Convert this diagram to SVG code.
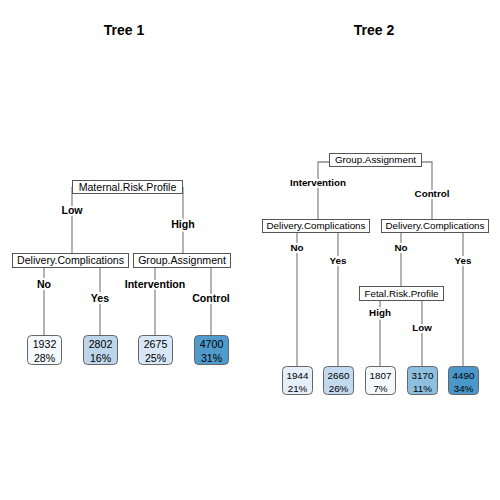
<svg xmlns="http://www.w3.org/2000/svg" width="500" height="500" viewBox="0 0 500 500">
<style>
text{font-family:"Liberation Sans",Arial,sans-serif;fill:#000}
.title{font-size:14px;font-weight:bold;text-anchor:middle}
.n1{font-size:10.6px;text-anchor:middle}
.n2{font-size:9.8px;text-anchor:middle}
.lab1{font-size:10.6px;font-weight:bold;text-anchor:middle;stroke:#fff;stroke-width:4;paint-order:stroke}
.lab2{font-size:9.8px;font-weight:bold;text-anchor:middle;stroke:#fff;stroke-width:4;paint-order:stroke}
.box{fill:#fff;stroke:#555;stroke-width:1}
.leaf{stroke:#666;stroke-width:1}
.edge{stroke:#8c8c8c;stroke-width:1.3;fill:none}
</style>
<rect width="500" height="500" fill="#fff"/>
<text class="title" x="124" y="35">Tree 1</text>
<text class="title" x="374" y="35">Tree 2</text>

<g id="connectors">
<!-- Tree 1 -->
<path class="edge" d="M72,187 V253 M183,187 V253 M44,267 V335 M100,267 V335 M155,267 V335 M211,267 V335"/>
<!-- Tree 2 -->
<path class="edge" d="M329,162 H318 V219 M421,162 H432 V219 M297,232 V366 M338,232 V366 M401,232 V286 M463,232 V366 M380,300 V366 M422,300 V366"/>
</g>

<g id="edge-labels">
<text class="lab1" x="72" y="214">Low</text>
<text class="lab1" x="183" y="228">High</text>
<text class="lab1" x="44" y="288">No</text>
<text class="lab1" x="100" y="302">Yes</text>
<text class="lab1" x="155" y="288">Intervention</text>
<text class="lab1" x="211" y="302">Control</text>
<text class="lab2" x="318" y="185.5">Intervention</text>
<text class="lab2" x="432" y="197">Control</text>
<text class="lab2" x="297" y="250.5">No</text>
<text class="lab2" x="338" y="264">Yes</text>
<text class="lab2" x="401" y="250.5">No</text>
<text class="lab2" x="463" y="264">Yes</text>
<text class="lab2" x="380" y="315.5">High</text>
<text class="lab2" x="422" y="330.5">Low</text>
</g>

<!-- Tree 1 nodes -->
<g id="t1-root"><rect class="box" x="72.5" y="180.5" width="110" height="13"/><text class="n1" x="127.5" y="190.7">Maternal.Risk.Profile</text></g>
<g id="t1-dc"><rect class="box" x="12.5" y="253.5" width="116" height="14"/><text class="n1" x="70.5" y="264.2">Delivery.Complications</text></g>
<g id="t1-ga"><rect class="box" x="133.5" y="253.5" width="97" height="14"/><text class="n1" x="182" y="264.2">Group.Assignment</text></g>
<g id="t1-leaf1"><rect class="leaf" x="27.5" y="335.5" width="34" height="29" rx="4" fill="#f4f9fe"/><text class="n1" x="44.5" y="348">1932</text><text class="n1" x="44.5" y="361.5">28%</text></g>
<g id="t1-leaf2"><rect class="leaf" x="83.5" y="335.5" width="34" height="29" rx="4" fill="#bcd5eb"/><text class="n1" x="100.5" y="348">2802</text><text class="n1" x="100.5" y="361.5">16%</text></g>
<g id="t1-leaf3"><rect class="leaf" x="138.5" y="335.5" width="34" height="29" rx="4" fill="#d7e7f5"/><text class="n1" x="155.5" y="348">2675</text><text class="n1" x="155.5" y="361.5">25%</text></g>
<g id="t1-leaf4"><rect class="leaf" x="194.5" y="335.5" width="34" height="29" rx="4" fill="#4f9bcb"/><text class="n1" x="211.5" y="348">4700</text><text class="n1" x="211.5" y="361.5">31%</text></g>

<!-- Tree 2 nodes -->
<g id="t2-root"><rect class="box" x="329.5" y="153.5" width="92" height="13"/><text class="n2" x="375.5" y="163.3">Group.Assignment</text></g>
<g id="t2-dc-left"><rect class="box" x="262.5" y="219.5" width="107" height="13"/><text class="n2" x="316" y="229.3">Delivery.Complications</text></g>
<g id="t2-dc-right"><rect class="box" x="381.5" y="219.5" width="107" height="13"/><text class="n2" x="435" y="229.3">Delivery.Complications</text></g>
<g id="t2-frp"><rect class="box" x="359.5" y="286.5" width="84" height="14"/><text class="n2" x="401.5" y="296.8">Fetal.Risk.Profile</text></g>
<g id="t2-leaf1"><rect class="leaf" x="282.5" y="366.5" width="30" height="28" rx="4" fill="#e4eff9"/><text class="n2" x="297.5" y="379">1944</text><text class="n2" x="297.5" y="391.5">21%</text></g>
<g id="t2-leaf2"><rect class="leaf" x="323.5" y="366.5" width="30" height="28" rx="4" fill="#c3d9ed"/><text class="n2" x="338.5" y="379">2660</text><text class="n2" x="338.5" y="391.5">26%</text></g>
<g id="t2-leaf3"><rect class="leaf" x="365.5" y="366.5" width="30" height="28" rx="4" fill="#f3f8fd"/><text class="n2" x="380.5" y="379">1807</text><text class="n2" x="380.5" y="391.5">7%</text></g>
<g id="t2-leaf4"><rect class="leaf" x="407.5" y="366.5" width="30" height="28" rx="4" fill="#8dc0df"/><text class="n2" x="422.5" y="379">3170</text><text class="n2" x="422.5" y="391.5">11%</text></g>
<g id="t2-leaf5"><rect class="leaf" x="448.5" y="366.5" width="30" height="28" rx="4" fill="#4a97c9"/><text class="n2" x="463.5" y="379">4490</text><text class="n2" x="463.5" y="391.5">34%</text></g>
</svg>
